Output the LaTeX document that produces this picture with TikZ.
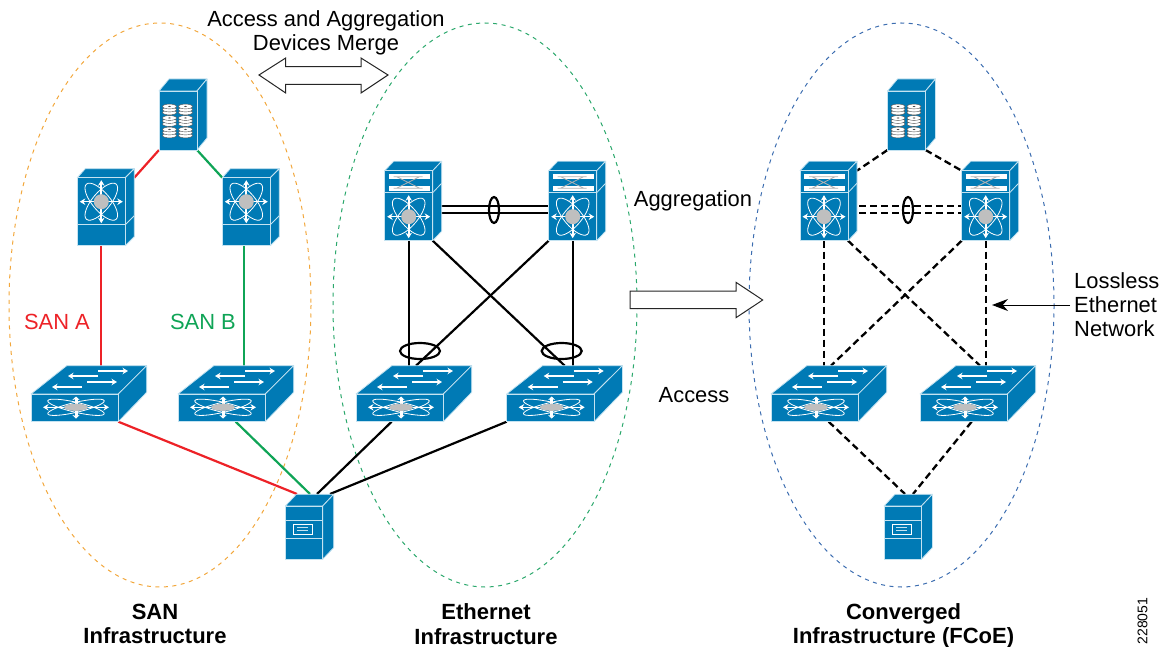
\documentclass[tikz,border=0pt]{standalone}
\usepackage{fontspec}
\setmainfont{Liberation Sans}
\usetikzlibrary{arrows.meta,backgrounds}

\definecolor{devblue}{HTML}{007AB5}
\definecolor{devedge}{HTML}{C5E3F1}
\definecolor{sanred}{HTML}{ED2227}
\definecolor{sangreen}{HTML}{0FA456}
\definecolor{ringorange}{HTML}{F2A73C}
\definecolor{ringgreen}{HTML}{2BA86C}
\definecolor{ringblue}{HTML}{3C6DB0}

\tikzset{
  devface/.style={draw=devedge, fill=devblue, line width=.8pt, inner sep=0pt, outer sep=0pt},
  devline/.style={draw=devedge, fill=devblue, line width=.8pt, line join=round},
  whitearrow/.style={draw=white, line width=1.3pt, -{Stealth[length=5.5pt,width=6.5pt]}},
  fatarrow/.style={draw=white, line width=3pt, -{Stealth[length=3.5pt,width=7pt]}},
  orbit/.style={draw=white, line width=.8pt},
  link/.style={line width=2.2pt},
  dashlink/.style={line width=2.3pt, dash pattern=on 7pt off 4pt},
  ring/.style={dash pattern=on 4pt off 4.5pt, line width=1pt},
  bundle/.style={draw=black, line width=2.2pt},
  txt/.style={font=\fontsize{21.9}{24}\selectfont, inner sep=0pt, align=center},
  title/.style={font=\bfseries\fontsize{22}{24.5}\selectfont, inner sep=0pt, align=center},
  % star icon of the tall chassis
  pics/staricon/.style={code={
    \draw [orbit, rotate=50] (0,0) ellipse (23 and 9);
    \draw [orbit, rotate=-50] (0,0) ellipse (23 and 9);
    \foreach \a in {0,180}
      \draw [whitearrow] (0,0) -- (\a:21.5);
    \foreach \a in {90,270}
      \draw [whitearrow, line width=1.8pt] (0,0) -- (\a:21.5);
    \fill [gray!50] (0,0) circle (7.5);
  }},
  % plain chassis
  pics/director/.style={code={
    \draw [devline] (0,0) -- (8,-9) -- (57,-9) -- (48,0) -- cycle;
    \draw [devline] (48,0) -- (57,-9) -- (57,59) -- (48,68) -- cycle;
    \draw [devline] (48,47) -- (57,38);
    \node [devface, anchor=north west, minimum width=48pt, minimum height=68pt] (-face) at (0,0) {};
    \coordinate (-ne) at (57,0);
    \draw [devedge, line width=.8pt] (0,47) -- (48,47);
    \pic at (24,24) {staricon};
  }},
  % chassis with module on top
  pics/modular/.style={code={
    \draw [devline] (0,0) -- (9,-9.5) -- (57,-9.5) -- (48,0) -- cycle;
    \draw [devline] (48,0) -- (57,-9.5) -- (57,60.5) -- (48,70) -- cycle;
    \draw [devline] (48,22) -- (57,12.5);
    \node [devface, anchor=north west, minimum width=48pt, minimum height=70pt] (-face) at (0,0) {};
    \coordinate (-ne) at (57,0);
    \draw [devedge, line width=.8pt] (0,22) -- (48,22);
    \fill [white] (4,3.3) rectangle (45,8.7);
    \fill [white] (4,15) rectangle (45,20.3);
    \draw [gray!60, line width=.8pt] (9,6) -- (38,6) (9,17.5) -- (38,17.5) (12,6) -- (35,17.5) (12,17.5) -- (35,6);
    \pic at (24,46) {staricon};
  }},
  % storage box
  pics/diskbox/.style={code={
    \draw [devline] (0,0) -- (10,-12) -- (48,-12) -- (38,0) -- cycle;
    \draw [devline] (38,0) -- (48,-12) -- (48,47) -- (38,59) -- cycle;
    \node [devface, anchor=north west, minimum width=38pt, minimum height=59pt] (-face) at (0,0) {};
    \foreach \cx in {10.5,26.5}
      \foreach \cy in {18.5,30,41.5} {
        \foreach \dz in {3,0,-3}
          \draw [fill=white, draw=black!70, line width=.4pt] (\cx,\cy+\dz) ellipse (7 and 2.4);
        \fill [black!70] (\cx,\cy-3) ellipse (1.5 and .6);
      }
  }},
  % flat switch
  pics/flatswitch/.style={code={
    \draw [devline] (0,0) -- (35.7,-28.3) -- (115.7,-28.3) -- (87.3,0) -- cycle;
    \draw [devline] (87.3,0) -- (115.7,-28.3) -- (115.7,-1.7) -- (87.3,27.7) -- cycle;
    \node [devface, anchor=north west, minimum width=87.3pt, minimum height=27.7pt] (-face) at (0,0) {};
    \coordinate (-back) at (60,-28.3);
    \draw [whitearrow] (67,-18) -- (37,-18);
    \draw [whitearrow] (67,-23) -- (97,-23);
    \draw [whitearrow] (51,-7) -- (21,-7);
    \draw [whitearrow] (56,-12) -- (86,-12);
    \draw [orbit, rotate around={13:(45,13.3)}] (45,13.3) ellipse (29 and 5);
    \draw [orbit, rotate around={-13:(45,13.3)}] (45,13.3) ellipse (29 and 5);
    \draw [whitearrow] (45,13.3) -- (12,13.3);
    \draw [whitearrow] (45,13.3) -- (78,13.3);
    \draw [fatarrow] (45,13.3) -- (45,2.5);
    \draw [fatarrow] (45,13.3) -- (45,24.5);
    \fill [gray!50] (45,13.3) ellipse (12 and 3.6);
  }},
  % tower server
  pics/tower/.style={code={
    \draw [devline] (0,0) -- (11,-11.7) -- (48.4,-11.7) -- (37.4,0) -- cycle;
    \draw [devline] (37.4,0) -- (48.4,-11.7) -- (48.4,41.6) -- (37.4,53.3) -- cycle;
    \node [devface, anchor=north west, minimum width=37.4pt, minimum height=53.3pt] (-face) at (0,0) {};
    \draw [devedge, line width=1pt] (0,14) -- (37.4,14) (0,32.3) -- (37.4,32.3);
    \draw [white, line width=.8pt] (8,18) rectangle (27,28);
    \draw [devedge, line width=.8pt] (12,21.5) -- (23,21.5) (12,24.5) -- (23,24.5);
  }}
}

\begin{document}
\begin{tikzpicture}[x=1pt, y=-1pt]

\useasboundingbox (0,0) rectangle (1162,647);

% devices
\pic (stor) at (159,91) {diskbox};
\pic (dira) at (77.3,177.7) {director};
\pic (dirb) at (222.3,177.7) {director};
\pic (edgea) at (31,394) {flatswitch};
\pic (edgeb) at (178,394) {flatswitch};
\pic (srv) at (285.3,506) {tower};

\pic (agga) at (384.7,170.7) {modular};
\pic (aggb) at (548.7,170.7) {modular};
\pic (acca) at (356,394) {flatswitch};
\pic (accb) at (506.7,394) {flatswitch};

\pic (cstor) at (887.5,91) {diskbox};
\pic (cagga) at (800,170.7) {modular};
\pic (caggb) at (961.7,170.7) {modular};
\pic (cacca) at (771,394) {flatswitch};
\pic (caccb) at (920,394) {flatswitch};
\pic (csrv) at (884,506) {tower};

\coordinate (srvtop) at (310,494);
\coordinate (csrvtop) at (909,494);

\begin{scope}[on background layer]
% rings
\draw [ring, ringorange] (160,305) ellipse (151 and 282);
\draw [ring, ringgreen] (485,305) ellipse (152 and 282);
\draw [ring, ringblue] (901.5,305) ellipse (152.5 and 282);

% SAN links
\draw [link, sanred] (stor-face.south west) -- (dira-ne);
\draw [link, sangreen] (stor-face.south east) -- (dirb-face.north west);
\draw [link, sanred] (dira-face.south) -- (dira-face.south |- edgea-back);
\draw [link, sangreen] ([xshift=-2.5pt]dirb-face.south) -- ([xshift=-2.5pt]dirb-face.south |- edgeb-back);
\draw [link, sanred] (edgea-face.south east) -- ([xshift=-13pt]srvtop);
\draw [link, sangreen] ([xshift=14pt]edgeb-face.south) -- (srvtop);

% Ethernet links
\draw [bundle] (agga-face.south) -- (agga-face.south |- acca-back);
\draw [bundle] (aggb-face.south) -- (aggb-face.south |- accb-back);
\draw [bundle] (agga-face.south east) -- ([xshift=-2pt]accb-back);
\draw [bundle] (aggb-face.south west) -- (acca-back);
\draw [bundle] ([yshift=-7pt]agga-face.east) -- ([yshift=-7pt]aggb-face.west);
\draw [bundle] (agga-face.east) -- (aggb-face.west);
\draw [bundle] ([xshift=-8pt]acca-face.south) -- ([xshift=7pt]srvtop);
\draw [bundle] (accb-face.south west) -- ([xshift=20pt]srvtop);

% converged links
\draw [dashlink] (cstor-face.south west) -- (cagga-ne);
\draw [dashlink] (cstor-face.south east) -- (caggb-face.north west);
\draw [dashlink] (cagga-face.south) -- (cagga-face.south |- cacca-back);
\draw [dashlink] (caggb-face.south) -- (caggb-face.south |- caccb-back);
\draw [dashlink] (cagga-face.south east) -- (caccb-back);
\draw [dashlink] (caggb-face.south west) -- (cacca-back);
\draw [dashlink] ([yshift=-7pt]cagga-face.east) -- ([yshift=-7pt]caggb-face.west);
\draw [dashlink] (cagga-face.east) -- (caggb-face.west);
\draw [dashlink] ([xshift=14pt]cacca-face.south) -- ([xshift=-4pt]csrvtop);
\draw [dashlink] ([xshift=8pt]caccb-face.south) -- ([xshift=4pt]csrvtop);
\end{scope}

\draw [bundle] (494,210) ellipse (5 and 13);
\draw [bundle] (908,210) ellipse (5 and 13);
\draw [bundle] (420,351) ellipse (20 and 8);
\draw [bundle] (561.7,351) ellipse (20 and 8);

% big arrows
\draw [fill=white, line width=1pt, draw=black!85] (259,75) -- (285.7,58) -- (285.7,66.7) -- (361,66.7) -- (361,58) -- (388,75) -- (361,93) -- (361,84.3) -- (285.7,84.3) -- (285.7,93) -- cycle;
\draw [fill=white, line width=1pt, draw=black!85] (630,291) -- (736,291) -- (736,282.3) -- (762.7,300) -- (736,317.7) -- (736,308.7) -- (630,308.7) -- cycle;

% labels
\node [txt] (mergelabel) at (326,33) {Access and Aggregation\\Devices Merge};
\node [txt, text=sanred] (sanalabel) at (57,322) {SAN A};
\node [txt, text=sangreen] (sanblabel) at (203,322) {SAN B};
\node [txt] (agglabel) at (693,201) {Aggregation};
\node [txt] (acclabel) at (694,395) {Access};
\node [txt, align=left, anchor=west] (losslabel) at (1074,305) {Lossless\\Ethernet\\Network};
\node [title] (santitle) at (155,624) {SAN\\Infrastructure};
\node [title] (ethtitle) at (486,624) {Ethernet\\Infrastructure};
\node [title] (fcoetitle) at (903.5,626) {Converged\\Infrastructure (FCoE)};
\node [inner sep=0pt, rotate=90, font=\fontsize{14}{16}\selectfont] (figid) at (1142.5,621) {228051};

\coordinate (losstip) at (992,305);
\draw [line width=1pt, -{Stealth[length=16pt,width=12pt]}] ([xshift=-4pt]losslabel.west |- losstip) -- (losstip);

\end{tikzpicture}
\end{document}
